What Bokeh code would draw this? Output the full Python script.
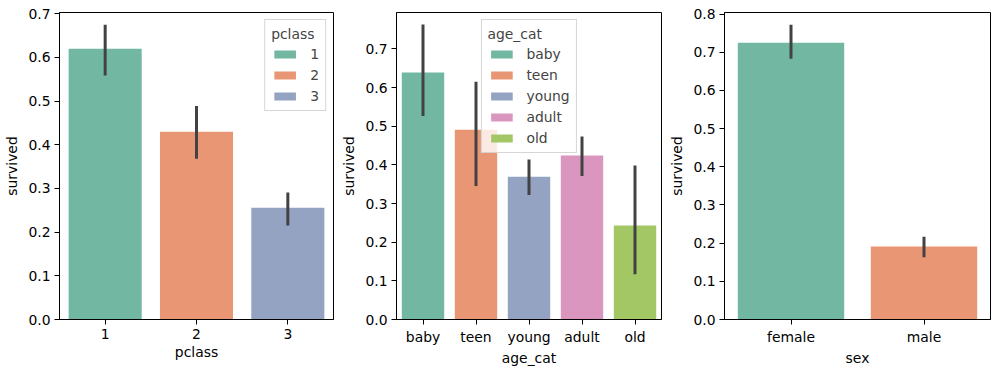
from bokeh.plotting import figure
from bokeh.layouts import row
from bokeh.models import ColumnDataSource, Range1d, FixedTicker, PrintfTickFormatter
from bokeh.embed import file_html
from bokeh.resources import INLINE

# ---- data ----
pclass_cats = ["1", "2", "3"]
pclass_surv = [0.620, 0.430, 0.256]
pclass_lo = [0.559, 0.368, 0.215]
pclass_hi = [0.675, 0.489, 0.291]

age_cats = ["baby", "teen", "young", "adult", "old"]
age_surv = [0.639, 0.491, 0.369, 0.424, 0.243]
age_lo = [0.526, 0.345, 0.322, 0.371, 0.117]
age_hi = [0.763, 0.615, 0.414, 0.473, 0.398]

sex_cats = ["female", "male"]
sex_surv = [0.725, 0.191]
sex_lo = [0.683, 0.163]
sex_hi = [0.772, 0.217]

palette = ["#72b7a1", "#e99675", "#95a3c3", "#db96c0", "#a2c764"]

FONT = "DejaVu Sans"
FS = "13.9px"


def make_panel(cats, surv, lo, hi, xlabel, ymax, yticks, width, left, right, legend_title=None, legend_loc=None):
    p = figure(x_range=cats, y_range=Range1d(0, ymax), width=width, height=371,
               output_backend="svg", toolbar_location=None,
               min_border_left=left, min_border_right=right, min_border_top=12, min_border_bottom=52)
    src = ColumnDataSource(dict(cat=cats, val=surv, lo=lo, hi=hi, color=palette[:len(cats)]))
    kw = {}
    if legend_title:
        kw["legend_field"] = "cat"
    p.vbar(x="cat", top="val", width=0.8, fill_color="color", line_color=None, source=src, **kw)
    p.segment(x0="cat", y0="lo", x1="cat", y1="hi", line_color="#424242", line_width=3, source=src)

    p.xgrid.visible = False
    p.ygrid.visible = False
    p.outline_line_color = "black"
    p.outline_line_width = 1
    p.x_range.range_padding = 0

    p.yaxis.ticker = FixedTicker(ticks=yticks)
    p.yaxis.formatter = PrintfTickFormatter(format="%.1f")
    for ax in (p.xaxis[0], p.yaxis[0]):
        ax.axis_line_color = "black"
        ax.major_tick_line_color = "black"
        ax.major_tick_out = 5
        ax.major_tick_in = 0
        ax.minor_tick_line_color = None
        ax.major_label_standoff = 4
        ax.major_label_text_font = FONT
        ax.major_label_text_font_size = FS
        ax.major_label_text_color = "black"
        ax.axis_label_text_font = FONT
        ax.axis_label_text_font_size = FS
        ax.axis_label_text_font_style = "normal"
        ax.axis_label_text_color = "black"
    p.xaxis.axis_label_standoff = 2
    p.yaxis.axis_label_standoff = 5
    p.xaxis.axis_label = xlabel
    p.yaxis.axis_label = "survived"

    if legend_title:
        lg = p.legend[0]
        lg.title = legend_title
        lg.location = legend_loc
        lg.margin = 7
        lg.padding = 6
        lg.spacing = 5
        lg.glyph_width = 27
        lg.glyph_height = 10
        lg.label_height = 14
        lg.label_width = 8
        lg.label_standoff = 12
        lg.title_standoff = 4
        lg.label_text_font = FONT
        lg.label_text_font_size = FS
        lg.title_text_font = FONT
        lg.title_text_font_size = FS
        lg.title_text_font_style = "normal"
        lg.border_line_color = "#cccccc"
        lg.border_line_alpha = 0.8
        lg.background_fill_alpha = 0.8
    return p


p1 = make_panel(pclass_cats, pclass_surv, pclass_lo, pclass_hi, "pclass", 0.703,
                [0.0, 0.1, 0.2, 0.3, 0.4, 0.5, 0.6, 0.7], 338, 59, 5, "pclass", "top_right")
p2 = make_panel(age_cats, age_surv, age_lo, age_hi, "age_cat", 0.794,
                [0.0, 0.1, 0.2, 0.3, 0.4, 0.5, 0.6, 0.7], 328, 50, 5, "age_cat", "top_center")
p3 = make_panel(sex_cats, sex_surv, sex_lo, sex_hi, "sex", 0.804,
                [0.0, 0.1, 0.2, 0.3, 0.4, 0.5, 0.6, 0.7, 0.8], 327, 50, 3)

layout = row(p1, p2, p3)
open("out.html", "w").write(file_html(layout, INLINE))
